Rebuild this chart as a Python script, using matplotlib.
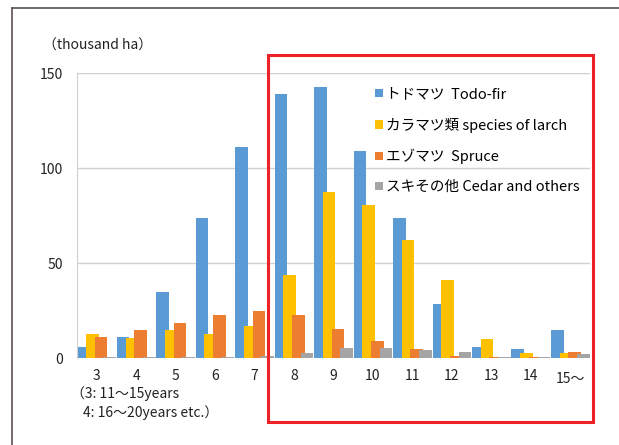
import numpy as np
import matplotlib as mpl
import matplotlib.pyplot as plt
from matplotlib.patches import Rectangle

# age classes (5-year classes) and planted area by species, thousand ha
age_class = ['3', '4', '5', '6', '7', '8', '9', '10', '11', '12', '13', '14', '15～']
todo_fir = [6, 11, 35, 74, 111, 139, 143, 109, 74, 28.5, 6, 5, 14.7]
larch = [13, 10.5, 15, 12.8, 16.8, 44, 87.4, 80.5, 62.5, 41, 10.2, 2.6, 3]
spruce = [11, 14.7, 18.8, 23, 25, 22.8, 15.2, 9.3, 5, 1.2, 0.5, 0.7, 3.3]
cedar = [0.8, 0.5, 0.8, 0.8, 1.2, 2.8, 5.2, 5.6, 4.4, 3.5, 0.5, 0.5, 2.1]

series = [
    ('トドマツ  Todo-fir', todo_fir, '#5B9BD5'),
    ('カラマツ類 species of larch', larch, '#FFC000'),
    ('エゾマツ  Spruce', spruce, '#ED7D31'),
    ('スキその他 Cedar and others', cedar, '#A5A5A5'),
]

mpl.rcParams['font.family'] = ['Noto Sans CJK JP', 'DejaVu Sans']
mpl.rcParams['font.size'] = 10

fig = plt.figure(figsize=(6.19, 4.45), dpi=100)
ax = fig.add_axes([0.1244, 0.1948, 0.8288, 0.6404])

x = np.arange(len(age_class))
step = 0.22
width = 0.32
handles = []
for i, (name, vals, color) in enumerate(series):
    b = ax.bar(x + (i - 1.5) * step, vals, width=width, color=color, label=name, zorder=2 + i)
    handles.append(b)

ax.set_xlim(-0.5, len(age_class) - 0.5)
ax.set_ylim(0, 150)
ax.set_yticks([0, 50, 100, 150])
ax.set_xticks(x)
ax.set_xticklabels(age_class)
ax.tick_params(length=0, labelsize=10, colors='#222222')
ax.tick_params(axis='y', pad=10)
ax.tick_params(axis='x', pad=8)
ax.grid(axis='y', color='#D0D0D0', linewidth=1, zorder=0)
for s in ['top', 'right', 'bottom']:
    ax.spines[s].set_visible(False)
ax.spines['left'].set_color('#D0D0D0')

# the last tick label sits a little lower
ax.get_xticklabels()[-1].set_y(-0.01)

leg = ax.legend(handles=handles, loc='upper left', bbox_to_anchor=(0.556, 0.997),
                frameon=False, handlelength=0.5, handleheight=0.5, handletextpad=0.2,
                labelspacing=1.1, fontsize=10.5)

fig.text(0.07, 0.897, '（thousand ha）', fontsize=10, va='center', color='#222222')
fig.text(0.115, 0.115, '（3: 11～15years', fontsize=10, va='center', color='#222222')
fig.text(0.134, 0.072, '4: 16～20years etc.）', fontsize=10, va='center', color='#222222')

# outer frame (top and left edges)
fig.add_artist(plt.Line2D([12 / 619, 12 / 619], [0, 1 - 8 / 445], transform=fig.transFigure,
                          color='#5b5350', linewidth=1.2))
fig.add_artist(plt.Line2D([12 / 619, 1], [1 - 8 / 445, 1 - 8 / 445], transform=fig.transFigure,
                          color='#5b5350', linewidth=1.2))

# highlight box around classes 8 and older
fig.add_artist(Rectangle((268 / 619, 1 - 422 / 445), (593 - 268) / 619, (422 - 55) / 445,
                         transform=fig.transFigure, fill=False, edgecolor='#EE2226',
                         linewidth=2.2, zorder=10))

fig.savefig('out.png', dpi=100)
